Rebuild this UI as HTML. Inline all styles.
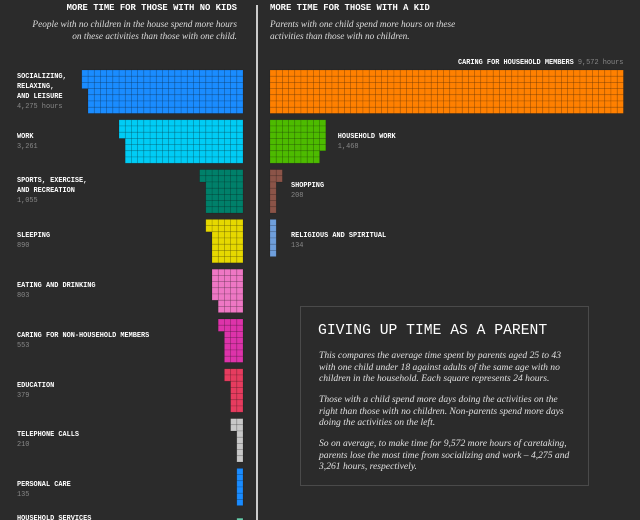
<!DOCTYPE html>
<html><head><meta charset="utf-8">
<style>
html,body{margin:0;padding:0;background:#2b2b2b;width:640px;height:520px;overflow:hidden;}
body{position:relative;font-family:"Liberation Mono",monospace;}
.h{position:absolute;top:3px;color:#fff;font-size:8.9px;font-weight:bold;white-space:nowrap;}
.sub{position:absolute;top:19px;color:#ddd;font-family:"Liberation Serif",serif;font-style:italic;font-size:9.3px;line-height:12px;white-space:nowrap;}
.lab{position:absolute;color:#fff;font-size:6.9px;font-weight:bold;line-height:10px;white-space:nowrap;}
.val{color:#888;font-weight:normal;}
#box{position:absolute;left:300px;top:306px;width:289px;height:180px;border:1px solid #4a4a4a;box-sizing:border-box;}
#box h2{position:absolute;left:17px;top:16px;margin:0;font-size:14.7px;font-weight:normal;color:#fff;white-space:nowrap;}
#box p{position:absolute;left:18px;width:256px;margin:0;font-family:"Liberation Serif",serif;font-style:italic;font-size:9.6px;line-height:11.5px;color:#e0e0e0;}
</style></head><body>
<div class="h" style="right:403px">MORE TIME FOR THOSE WITH NO KIDS</div>
<div class="h" style="left:270px">MORE TIME FOR THOSE WITH A KID</div>
<div class="sub" style="right:403px;text-align:right">People with no children in the house spend more hours<br>on these activities than those with one child.</div>
<div class="sub" style="left:270px">Parents with one child spend more hours on these<br>activities than those with no children.</div>
<div style="position:absolute;left:256px;top:5px;width:2px;height:515px;background:#ccc"></div>
<svg id="chart" width="640" height="520" style="position:absolute;left:0;top:0"></svg>
<div id="labels"></div>
<div id="box">
<h2>GIVING UP TIME AS A PARENT</h2>
<p style="top:43px;width:250px">This compares the average time spent by parents aged 25 to 43 with one child under 18 against adults of the same age with no children in the household. Each square represents 24 hours.</p>
<p style="top:87px;width:250px">Those with a child spend more days doing the activities on the right than those with no children. Non-parents spend more days doing the activities on the left.</p>
<p style="top:131px">So on average, to make time for 9,572 more hours of caretaking, parents lose the most time from socializing and work – 4,275 and 3,261 hours, respectively.</p>
</div>
<script>
const leftCategories=["SOCIALIZING,|RELAXING,|AND LEISURE","WORK","SPORTS, EXERCISE,|AND RECREATION","SLEEPING","EATING AND DRINKING","CARING FOR NON-HOUSEHOLD MEMBERS","EDUCATION","TELEPHONE CALLS","PERSONAL CARE","HOUSEHOLD SERVICES"];
const leftHours=[4275,3261,1055,890,803,553,379,210,135,92];
const leftValueLabels=["4,275 hours","3,261","1,055","890","803","553","379","210","135","92"];
const leftColors=["#1a8cff","#00ccf5","#00806a","#e6d800","#ee77c4","#dd33aa","#e63c5f","#c8c8c8","#1a8cff","#66ccaa"];
const rightCategories=["CARING FOR HOUSEHOLD MEMBERS","HOUSEHOLD WORK","SHOPPING","RELIGIOUS AND SPIRITUAL"];
const rightHours=[9572,1468,208,134];
const rightValueLabels=["9,572 hours","1,468","208","134"];
const rightColors=["#ff8000","#4dbb00","#8b5448","#6f9fdc"];
const HOURS_PER_SQUARE=24, ROWS=7, CELL=6.2, TOP=70, STEP=49.8, LEFT_EDGE=243, RIGHT_EDGE=270;
const svg=document.getElementById('chart');
const labels=document.getElementById('labels');
const NS="http://www.w3.org/2000/svg";
function rowY(i){return TOP+i*STEP;}
function drawBlock(hours,color,i,side,name){
  const n=Math.round(hours/HOURS_PER_SQUARE);
  const g=document.createElementNS(NS,'g');
  
  
  for(let k=0;k<n;k++){
    const col=Math.floor(k/ROWS),row=k%ROWS;
    const x=side<0?LEFT_EDGE-(col+1)*CELL:RIGHT_EDGE+col*CELL;
    const r=document.createElementNS(NS,'rect');
    
    
    r.setAttribute('x',x);r.setAttribute('y',rowY(i)+row*CELL);
    r.setAttribute('width',CELL);r.setAttribute('height',CELL);
    r.setAttribute('fill',color);r.setAttribute('stroke','rgba(0,0,0,0.22)');r.setAttribute('stroke-width','0.6');
    g.appendChild(r);
  }
  svg.appendChild(g);
  return Math.ceil(n/ROWS);
}
leftHours.forEach((h,i)=>{
  drawBlock(h,leftColors[i],i,-1,'left-block-'+i);
  const lines=leftCategories[i].split('|');
  const d=document.createElement('div');
  
  
  d.className='lab';
  const total=(lines.length+1)*10;
  d.style.left='17px';
  d.style.top=Math.min(rowY(i)+21.7-total/2,514)+'px';
  d.innerHTML=lines.join('<br>')+'<br><span class="val">'+leftValueLabels[i]+'</span>';
  labels.appendChild(d);
});
rightHours.forEach((h,i)=>{
  const cols=drawBlock(h,rightColors[i],i,1,'right-block-'+i);
  const d=document.createElement('div');
  
  
  d.className='lab';
  if(i===0){
    d.style.right=(640-RIGHT_EDGE-cols*CELL)+'px';
    d.style.top=(rowY(0)-12)+'px';
    d.innerHTML=rightCategories[i]+' <span class="val">'+rightValueLabels[i]+'</span>';
  }else{
    d.style.left=(cols>2?RIGHT_EDGE+cols*CELL+12:291)+'px';
    d.style.top=(rowY(i)+11.7)+'px';
    d.innerHTML=rightCategories[i]+'<br><span class="val">'+rightValueLabels[i]+'</span>';
  }
  labels.appendChild(d);
});
</script>
</body></html>
